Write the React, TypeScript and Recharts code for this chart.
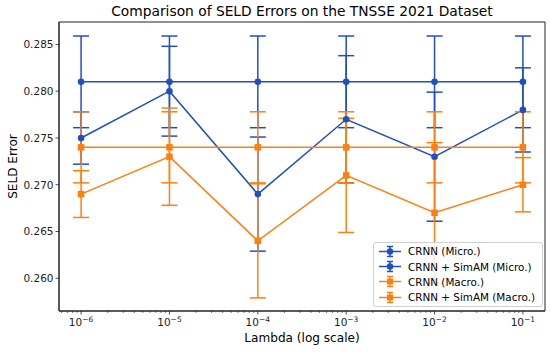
import { LineChart, Line, XAxis, YAxis, ErrorBar, Label, ReferenceArea } from 'recharts';

// lambda values (log x axis)
const lambdas = [1e-6, 1e-5, 1e-4, 1e-3, 1e-2, 1e-1];

// SELD error per lambda
const crnnMicro = [0.281, 0.281, 0.281, 0.281, 0.281, 0.281];
const crnnMicroErr = [0.0049, 0.0049, 0.0049, 0.0049, 0.0049, 0.0049];
const simamMicro = [0.275, 0.28, 0.269, 0.277, 0.273, 0.278];
const simamMicroErr = [0.0028, 0.0048, 0.0061, 0.0068, 0.0069, 0.0045];
const crnnMacro = [0.274, 0.274, 0.274, 0.274, 0.274, 0.274];
const crnnMacroErr = [0.0038, 0.0038, 0.0038, 0.0038, 0.0038, 0.0038];
const simamMacro = [0.269, 0.273, 0.264, 0.271, 0.267, 0.27];
const simamMacroErr = [0.0025, 0.0052, 0.0061, 0.0061, 0.0075, 0.0029];

const seriesNames = ['CRNN (Micro.)', 'CRNN + SimAM (Micro.)', 'CRNN (Macro.)', 'CRNN + SimAM (Macro.)'];

const yTicks = [0.26, 0.265, 0.27, 0.275, 0.28, 0.285];
const majorExps = [-6, -5, -4, -3, -2, -1];
const minorSteps = [2, 3, 4, 5, 6, 7, 8, 9];

const BLUE = '#1f4fc1';
const ORANGE = '#ff7f0e';
const AXIS = '#222';

const xDomain = [Math.pow(10, -6.25), Math.pow(10, -0.75)];
const yDomain = [0.2565, 0.2874];

// major + minor tick positions of the log axis
const xTicks: number[] = [];
[-7, ...majorExps].forEach((e) => {
  xTicks.push(Math.pow(10, e));
  minorSteps.forEach((m) => xTicks.push(m * Math.pow(10, e)));
});
const xTicksInRange = xTicks.filter((v) => v >= xDomain[0] && v <= xDomain[1]);

const data = lambdas.map((l, i) => ({
  lambda: l,
  crnnMicro: crnnMicro[i],
  crnnMicroErr: crnnMicroErr[i],
  simamMicro: simamMicro[i],
  simamMicroErr: simamMicroErr[i],
  crnnMacro: crnnMacro[i],
  crnnMacroErr: crnnMacroErr[i],
  simamMacro: simamMacro[i],
  simamMacroErr: simamMacroErr[i],
}));

const XTick = ({ x, y, payload }: any) => {
  const v = payload.value;
  const exp = Math.round(Math.log10(v));
  const major = Math.abs(v - Math.pow(10, exp)) < v * 1e-6;
  return (
    <g>
      <line x1={x} x2={x} y1={y} y2={y + (major ? 3.5 : 2)} stroke={AXIS} strokeWidth={major ? 0.8 : 0.6} />
      {major && (
        <text x={x} y={y + 15} textAnchor="middle" fontSize={10.5} fill={AXIS}>
          10<tspan dy={-4.5} fontSize={7.5}>{'\u2212' + -exp}</tspan>
        </text>
      )}
    </g>
  );
};

const YTick = ({ x, y, payload }: any) => (
  <g>
    <line x1={x - 3.5} x2={x} y1={y} y2={y} stroke={AXIS} strokeWidth={0.8} />
    <text x={x - 5.5} y={y + 3.8} textAnchor="end" fontSize={10.5} fill={AXIS}>
      {payload.value.toFixed(3)}
    </text>
  </g>
);

const squareDot = (props: any) => {
  const { cx, cy, key } = props;
  return <rect key={key} x={cx - 3.25} y={cy - 3.25} width={6.5} height={6.5} fill={ORANGE} />;
};

const LegendIcon = ({ color, square }: { color: string; square: boolean }) => (
  <svg width={26} height={15} style={{ display: 'block' }}>
    <line x1={2} x2={24} y1={7.5} y2={7.5} stroke={color} strokeWidth={1.5} />
    <line x1={13} x2={13} y1={2.5} y2={12.5} stroke={color} strokeWidth={1.5} />
    <line x1={10} x2={16} y1={2.5} y2={2.5} stroke={color} strokeWidth={1.5} />
    <line x1={10} x2={16} y1={12.5} y2={12.5} stroke={color} strokeWidth={1.5} />
    {square ? (
      <rect x={10} y={4.5} width={6} height={6} fill={color} />
    ) : (
      <circle cx={13} cy={7.5} r={3.2} fill={color} />
    )}
  </svg>
);

export default function App() {
  const legendColors = [BLUE, BLUE, ORANGE, ORANGE];
  return (
    <div style={{ position: 'absolute', left: 0, top: 0, width: 550, height: 352, fontFamily: 'DejaVu Sans', background: '#fff' }}>
      <div
        style={{
          position: 'absolute',
          left: 59,
          top: 2.7,
          width: 486,
          textAlign: 'center',
          fontSize: 13.8,
          lineHeight: '17px',
          color: '#000',
          whiteSpace: 'nowrap',
        }}
      >
        Comparison of SELD Errors on the TNSSE 2021 Dataset
      </div>
      <LineChart width={550} height={352} data={data} margin={{ top: 22, right: 5, bottom: 0, left: 0 }}>
        <XAxis
          dataKey="lambda"
          type="number"
          scale="log"
          domain={xDomain}
          allowDataOverflow
          ticks={xTicksInRange}
          interval={0}
          tick={<XTick />}
          tickLine={false}
          tickSize={0}
          tickMargin={0}
          height={41}
          stroke={AXIS}
        >
          <Label value="Lambda (log scale)" position="insideBottom" offset={10} fontSize={12.1} fill="#000" />
        </XAxis>
        <YAxis
          type="number"
          domain={yDomain}
          allowDataOverflow
          ticks={yTicks}
          interval={0}
          tick={<YTick />}
          tickLine={false}
          tickSize={0}
          tickMargin={0}
          width={59}
          stroke={AXIS}
        >
          <Label value="SELD Error" angle={-90} position="insideLeft" offset={13} fontSize={12.1} fill="#000" style={{ textAnchor: 'middle' }} />
        </YAxis>

        {/* frame around the plot area */}
        <ReferenceArea x1={xDomain[0]} x2={xDomain[1]} y1={yDomain[0]} y2={yDomain[1]} fill="none" stroke={AXIS} strokeWidth={1} ifOverflow="visible" />

        <Line dataKey="crnnMicro" name={seriesNames[0]} stroke={BLUE} strokeWidth={1.5} dot={{ r: 3.3, fill: BLUE, stroke: BLUE, strokeWidth: 0 }} isAnimationActive={false}>
          <ErrorBar dataKey="crnnMicroErr" direction="y" width={8} stroke={BLUE} strokeWidth={1.5} isAnimationActive={false} />
        </Line>
        <Line dataKey="simamMicro" name={seriesNames[1]} stroke={BLUE} strokeWidth={1.5} dot={{ r: 3.3, fill: BLUE, stroke: BLUE, strokeWidth: 0 }} isAnimationActive={false}>
          <ErrorBar dataKey="simamMicroErr" direction="y" width={8} stroke={BLUE} strokeWidth={1.5} isAnimationActive={false} />
        </Line>
        <Line dataKey="crnnMacro" name={seriesNames[2]} stroke={ORANGE} strokeWidth={1.5} dot={squareDot} isAnimationActive={false}>
          <ErrorBar dataKey="crnnMacroErr" direction="y" width={8} stroke={ORANGE} strokeWidth={1.5} isAnimationActive={false} />
        </Line>
        <Line dataKey="simamMacro" name={seriesNames[3]} stroke={ORANGE} strokeWidth={1.5} dot={squareDot} isAnimationActive={false}>
          <ErrorBar dataKey="simamMacroErr" direction="y" width={8} stroke={ORANGE} strokeWidth={1.5} isAnimationActive={false} />
        </Line>
      </LineChart>

      <div
        style={{
          position: 'absolute',
          left: 373,
          top: 242,
          width: 165,
          padding: '0.5px 0 1px 3px',
          border: '1px solid #d0d0d0',
          borderRadius: 3,
          background: 'rgba(255,255,255,0.8)',
        }}
      >
        {seriesNames.map((n, i) => (
          <div key={n} style={{ display: 'flex', alignItems: 'center', height: 15.4, fontSize: 10.4, color: '#000' }}>
            <LegendIcon color={legendColors[i]} square={i >= 2} />
            <span style={{ marginLeft: 5, whiteSpace: 'nowrap' }}>{n}</span>
          </div>
        ))}
      </div>
    </div>
  );
}
